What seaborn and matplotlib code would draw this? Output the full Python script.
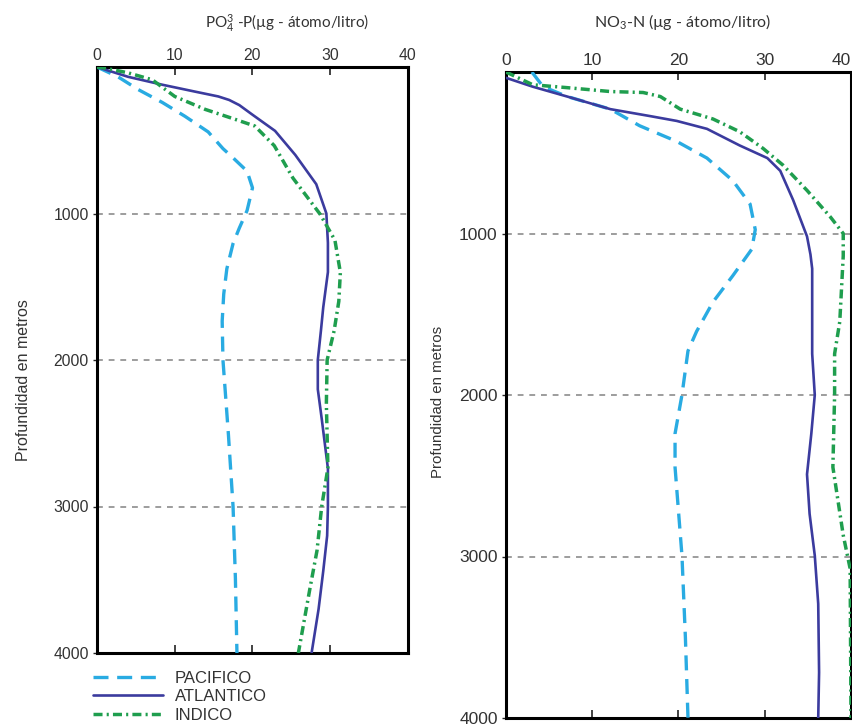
import matplotlib
matplotlib.use("Agg")
import matplotlib.pyplot as plt
import seaborn as sns

sns.set_style("white")
plt.rcParams["font.family"] = ["Liberation Sans", "DejaVu Sans"]
plt.rcParams["mathtext.fontset"] = "custom"
plt.rcParams["mathtext.rm"] = "Lato"
plt.rcParams["mathtext.default"] = "regular"

# ── datos ───────────────────────────────────────────────
OCEANS = ["PACIFICO", "ATLANTICO", "INDICO"]
CONC_TICKS = [0, 10, 20, 30, 40]
DEPTH_TICKS = [1000, 2000, 3000, 4000]
GRID_DEPTHS = [1000, 2000, 3000]
YLABEL = "Profundidad en metros"
PO4_TITLE = r"PO$_4^3$ -P(µg - átomo/litro)"
NO3_TITLE = r"NO$_3$-N (µg - átomo/litro)"

# fosfato
po4_pac_depth = [0, 67, 154, 242, 336, 443, 557, 620, 711, 825, 980, 1100, 1205, 1377, 1550, 1735, 2000, 2507, 3000, 3490, 4000]
po4_pac = [0, 2.7, 5.3, 8.4, 11.3, 14.3, 16.2, 17.5, 19.3, 20.0, 19.3, 18.3, 17.5, 16.7, 16.3, 16.1, 16.2, 16.9, 17.5, 17.8, 18.0]

po4_atl_depth = [0, 67, 121, 168, 201, 225, 260, 322, 436, 600, 800, 1000, 1200, 1400, 1640, 1800, 2000, 2200, 2400, 2740, 3000, 3200, 3440, 3700, 4000]
po4_atl = [0, 4.0, 8.4, 12.6, 15.6, 17.0, 18.3, 19.9, 22.9, 25.5, 28.2, 29.5, 29.7, 29.7, 29.1, 28.8, 28.4, 28.4, 28.9, 29.7, 29.7, 29.6, 29.1, 28.5, 27.6]

po4_ind_depth = [0, 7, 40, 87, 201, 289, 356, 403, 537, 758, 1005, 1182, 1402, 1600, 1800, 2000, 2300, 2736, 3000, 3300, 3556, 4000]
po4_ind = [0, 1.0, 4.0, 7.1, 10.0, 13.9, 17.7, 20.3, 22.8, 25.2, 28.7, 30.6, 31.3, 31.1, 30.5, 29.6, 29.5, 29.7, 28.9, 28.3, 27.4, 25.9]

# nitrato
no3_pac_depth = [0, 91, 152, 230, 333, 430, 533, 673, 818, 976, 1097, 1261, 1424, 1606, 1727, 2000, 2239, 2447, 2994, 3502, 4000]
no3_pac = [3.0, 4.3, 7.1, 12.1, 15.5, 19.8, 23.3, 26.3, 28.3, 28.9, 28.5, 26.3, 24.0, 22.1, 21.1, 20.4, 19.6, 19.6, 20.4, 20.8, 21.1]

no3_atl_depth = [36, 91, 152, 230, 273, 303, 352, 455, 533, 612, 794, 1018, 1130, 1218, 1545, 1745, 2000, 2239, 2491, 2736, 2994, 3293, 3718, 4000]
no3_atl = [0, 3.1, 7.1, 12.1, 16.7, 19.8, 23.3, 27.1, 30.3, 31.8, 33.3, 34.9, 35.3, 35.5, 35.5, 35.5, 35.8, 35.4, 34.9, 35.2, 35.8, 36.2, 36.3, 36.2]

no3_ind_depth = [0, 79, 97, 121, 127, 152, 230, 291, 370, 473, 576, 733, 897, 1000, 1139, 1545, 1745, 2000, 2447, 2868, 3075, 4000]
no3_ind = [0, 3.1, 7.1, 12.1, 15.9, 17.9, 20.2, 24.0, 27.1, 29.8, 32.1, 34.9, 37.6, 39.1, 39.1, 38.7, 38.1, 38.1, 37.9, 39.1, 39.9, 40.0]

# ── estilo ───────────────────────────────────────────────
COLORS = {"PACIFICO": "#29abe2", "ATLANTICO": "#3b3b9e", "INDICO": "#1f9e4e"}
WIDTHS = {"PACIFICO": 2.4, "ATLANTICO": 1.9, "INDICO": 2.5}
DASHES = {"PACIFICO": (4.5, 2.6), "ATLANTICO": None, "INDICO": (2.6, 1.2, 0.6, 1.2)}
TXT = "#333333"

fig = plt.figure(figsize=(8.53, 7.26), dpi=100)
ax_p = fig.add_axes([97 / 853, 1 - 653 / 726, 311 / 853, 586 / 726])
ax_n = fig.add_axes([506 / 853, 1 - 718 / 726, 345 / 853, 646 / 726])


def draw_panel(ax, series, labelsize):
    for d in GRID_DEPTHS:
        ax.axhline(d, color="#8c8c8c", lw=1.2, ls=(0, (3.5, 3.5)), zorder=1)
    handles = []
    for name, (x, depth) in zip(OCEANS, series):
        sns.lineplot(x=x, y=depth, ax=ax, sort=False, estimator=None,
                     color=COLORS[name], lw=WIDTHS[name], zorder=3)
        line = ax.lines[-1]
        if DASHES[name]:
            line.set_linestyle((0, DASHES[name]))
        handles.append(line)
    ax.set_xlim(0, 40)
    ax.set_ylim(4000, 0)
    ax.set_xticks(CONC_TICKS)
    ax.set_yticks(DEPTH_TICKS)
    ax.set_xlabel("")
    ax.set_ylabel("")
    ax.tick_params(axis="x", top=True, bottom=True, labeltop=True, labelbottom=False,
                   direction="in", length=6, width=1.2, color="#222222",
                   labelsize=labelsize, labelcolor=TXT, pad=3)
    ax.tick_params(axis="y", left=True, direction="out", length=3, width=1,
                   labelsize=labelsize, labelcolor=TXT, pad=3)
    for sp in ax.spines.values():
        sp.set_visible(True)
        sp.set_color("black")
        sp.set_linewidth(2.2)
    return handles


handles = draw_panel(ax_p, [(po4_pac, po4_pac_depth), (po4_atl, po4_atl_depth), (po4_ind, po4_ind_depth)], 11.3)
draw_panel(ax_n, [(no3_pac, no3_pac_depth), (no3_atl, no3_atl_depth), (no3_ind, no3_ind_depth)], 12.5)

# el "40" del panel derecho queda pegado al borde: se alinea a la derecha
fig.canvas.draw()
ax_n.get_xticklabels()[-1].set_horizontalalignment("right")

fig.text(287 / 853, 1 - 23 / 726, PO4_TITLE, ha="center", va="center", fontsize=11,
         family=["Lato", "DejaVu Sans"], color=TXT)
fig.text(683 / 853, 1 - 22 / 726, NO3_TITLE, ha="center", va="center", fontsize=11.5,
         family=["Lato", "DejaVu Sans"], color=TXT)
fig.text(24 / 853, 1 - 380 / 726, YLABEL, rotation=90, ha="center", va="center",
         fontsize=11.5, color=TXT)
fig.text(438 / 853, 1 - 402 / 726, YLABEL, rotation=90, ha="center", va="center",
         fontsize=10.8, color=TXT)

fig.legend(handles, OCEANS, loc="upper left", bbox_to_anchor=(93 / 853, 1 - 671 / 726),
           frameon=False, fontsize=12, labelcolor=TXT, handlelength=4.2,
           handletextpad=0.7, labelspacing=0.2, borderpad=0, borderaxespad=0)

fig.savefig("out.png", dpi=100)
